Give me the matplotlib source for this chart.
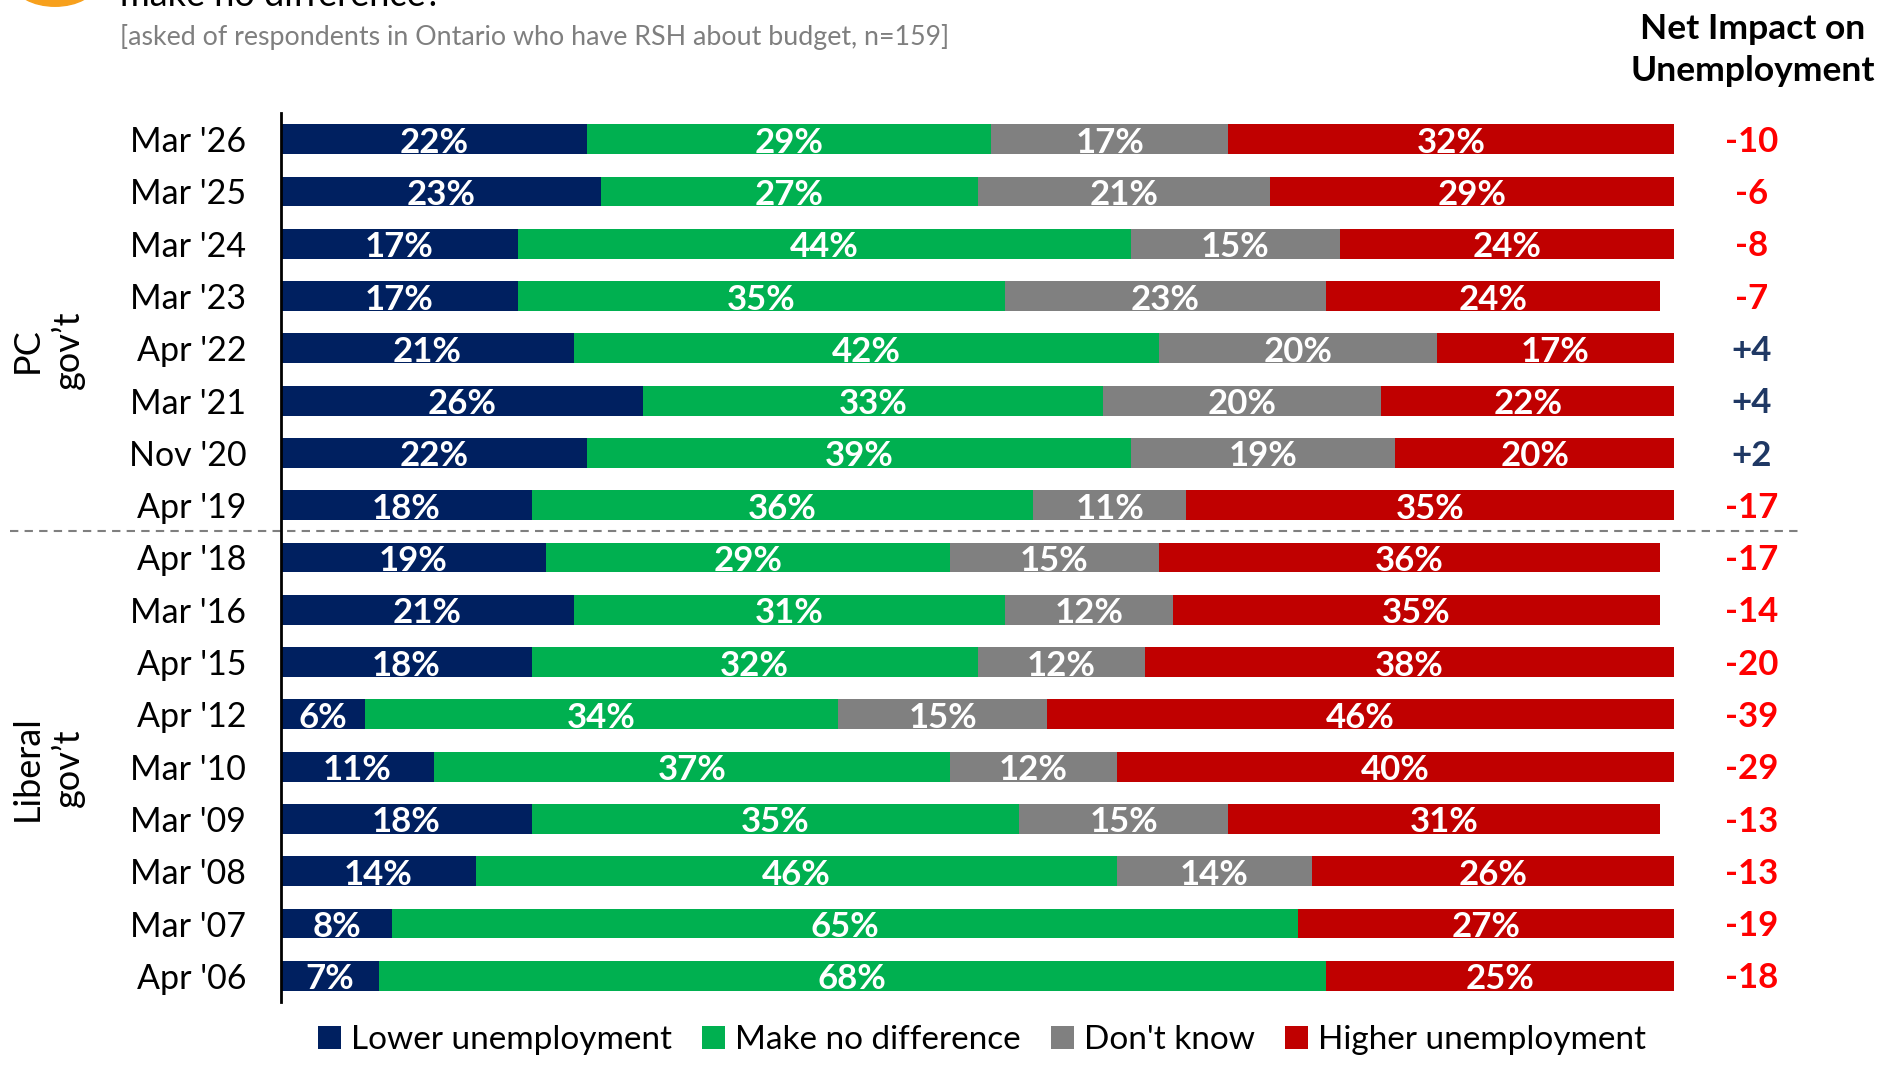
import matplotlib.pyplot as plt
from matplotlib.patches import Circle
from matplotlib.transforms import blended_transform_factory

plt.rcParams['font.family'] = ['Lato', 'DejaVu Sans']

# data, top row first
periods = ["Mar '26", "Mar '25", "Mar '24", "Mar '23", "Apr '22", "Mar '21", "Nov '20", "Apr '19",
           "Apr '18", "Mar '16", "Apr '15", "Apr '12", "Mar '10", "Mar '09", "Mar '08", "Mar '07", "Apr '06"]
lower = [22, 23, 17, 17, 21, 26, 22, 18, 19, 21, 18, 6, 11, 18, 14, 8, 7]
no_diff = [29, 27, 44, 35, 42, 33, 39, 36, 29, 31, 32, 34, 37, 35, 46, 65, 68]
dont_know = [17, 21, 15, 23, 20, 20, 19, 11, 15, 12, 12, 15, 12, 15, 14, 0, 0]
higher = [32, 29, 24, 24, 17, 22, 20, 35, 36, 35, 38, 46, 40, 31, 26, 27, 25]
net = [-10, -6, -8, -7, 4, 4, 2, -17, -17, -14, -20, -39, -29, -13, -13, -19, -18]

series = [("Lower unemployment", lower, "#002060"),
          ("Make no difference", no_diff, "#00b050"),
          ("Don't know", dont_know, "#808080"),
          ("Higher unemployment", higher, "#c00000")]

W, H = 1882, 1067
fig = plt.figure(figsize=(W / 100, H / 100), dpi=100)
ax = fig.add_axes([281 / W, 1 - 1002 / H, (1674 - 281) / W, (1002 - 113) / H])

y = list(range(len(periods)))
left = [0] * len(periods)
for name, vals, col in series:
    bars = ax.barh(y, vals, left=left, height=0.57, color=col, label=name)
    anns = ax.bar_label(bars, labels=[f'{v}%' if v else '' for v in vals], label_type='center',
                        color='white', fontsize=25, fontweight='bold')
    for a in anns:
        a.xyann = (0, -2.5)
    left = [a + b for a, b in zip(left, vals)]

ax.set_xlim(0, 100)
ax.set_ylim(16.5, -0.5)
ax.set_yticks(y)
ax.set_yticklabels(periods, fontsize=24.5)
ax.tick_params(axis='y', length=0, pad=25)
ax.set_xticks([])
for s in ['top', 'right', 'bottom']:
    ax.spines[s].set_visible(False)
ax.spines['left'].set_linewidth(2)
ax.spines['left'].set_color('black')

# net impact column
for i, v in enumerate(net):
    ax.text(105.6, i + 0.05, f'{v:+d}', ha='center', va='center', fontsize=25, fontweight='bold',
            color='#1f3864' if v > 0 else '#ff0000', clip_on=False)
fig.text(1753 / W, 1 - 50 / H, 'Net Impact on\nUnemployment', ha='center', va='center',
         fontsize=25.5, fontweight='bold', linespacing=1.4)

# divider between governments
tr = blended_transform_factory(fig.transFigure, ax.transData)
ax.plot([10 / W, 1801 / W], [7.5, 7.5], transform=tr, color='#7f7f7f', lw=1.5,
        ls=(0, (4, 3)), clip_on=False)

# government labels
fig.text(48 / W, 1 - 350 / H, 'PC\ngov\u2019t', rotation=90, ha='center', va='center',
         fontsize=26, linespacing=1.25)
fig.text(48 / W, 1 - 768 / H, 'Liberal\ngov\u2019t', rotation=90, ha='center', va='center',
         fontsize=26, linespacing=1.25)

# header (cut off at top, as in the source slide)
fig.patches.append(Circle((55 / W, 1 + 17 / H), 41 / W, transform=fig.transFigure,
                          color='#f7a01c', clip_on=False))
fig.text(120 / W, 1 - 6 / H, 'make no difference?', ha='left', va='baseline', fontsize=26)
fig.text(120 / W, 1 - 37 / H, '[asked of respondents in Ontario who have RSH about budget, n=159]',
         ha='left', va='center', fontsize=19.3, color='#7f7f7f')

fig.legend(loc='center', bbox_to_anchor=(982 / W, 1 - 1040 / H), ncol=4, frameon=False,
           fontsize=24, handlelength=0.7, handleheight=0.7, handletextpad=0.3,
           columnspacing=0.9, borderaxespad=0)

fig.savefig('out.png', dpi=100)
